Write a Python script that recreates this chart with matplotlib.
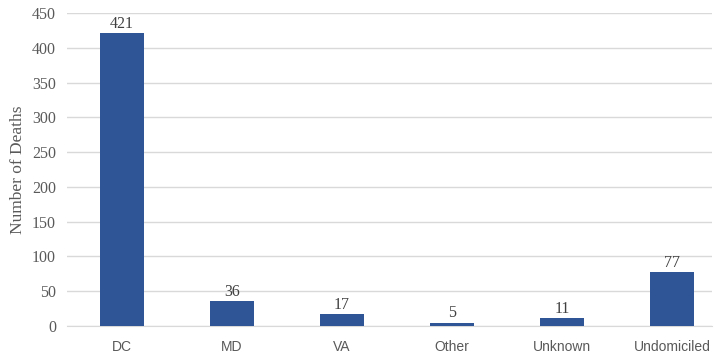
import matplotlib.pyplot as plt

# data
categories = ["DC", "MD", "VA", "Other", "Unknown", "Undomiciled"]
deaths = [421, 36, 17, 5, 11, 77]
y_ticks = [0, 50, 100, 150, 200, 250, 300, 350, 400, 450]

fig = plt.figure(figsize=(7.14, 3.58), dpi=100)
ax = fig.add_axes([67 / 714, 1 - 326 / 358, (712 - 67) / 714, (326 - 13) / 358])

x = list(range(len(categories)))
ax.bar(x, deaths, width=0.4, color="#2F5597", zorder=3)

for xi, v in zip(x, deaths):
    ax.text(xi, v + 2, str(v), ha="center", va="bottom",
            fontfamily="Liberation Serif", fontsize=11.5, color="#404040")

ax.set_ylim(0, 450)
ax.set_xlim(-0.5, 5 + 40 / 110)
ax.set_yticks(y_ticks)
ax.set_yticklabels([str(t) for t in y_ticks], fontfamily="Liberation Serif",
                   fontsize=11.5, color="#595959")
ax.set_xticks(x)
ax.set_xticklabels(categories, fontfamily="Liberation Sans", fontsize=10,
                   color="#595959")
ax.tick_params(length=0)
ax.tick_params(axis="x", pad=10)
ax.tick_params(axis="y", pad=8)

ax.grid(axis="y", color="#D9D9D9", linewidth=1, zorder=0)
for s in ["top", "right", "left"]:
    ax.spines[s].set_visible(False)
ax.spines["bottom"].set_color("#D9D9D9")

ax.set_ylabel("Number of Deaths", fontfamily="Liberation Serif", fontsize=12.5,
              color="#595959")
ax.yaxis.set_label_coords(-0.063, 0.5)

fig.savefig("out.png", dpi=100)
